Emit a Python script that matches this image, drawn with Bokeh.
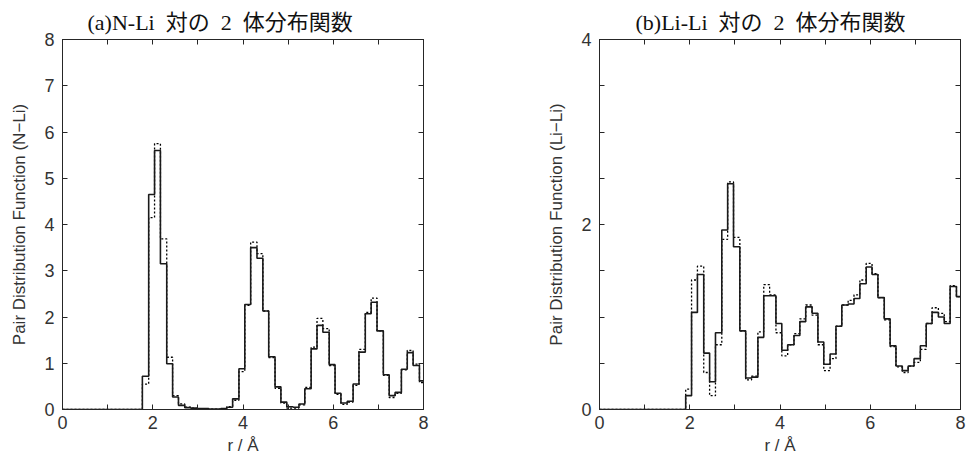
from bokeh.plotting import figure
from bokeh.models import LinearAxis, FixedTicker, Range1d
from bokeh.layouts import row
from bokeh.embed import file_html
from bokeh.resources import INLINE

# bin left edges (r / Å), bins of width 8/60
r_edges = [1.77, 1.91, 2.04, 2.17, 2.31, 2.44, 2.57, 2.71, 2.84, 2.97, 3.11, 3.24,
           3.37, 3.51, 3.64, 3.77, 3.91, 4.04, 4.17, 4.31, 4.44, 4.57, 4.71, 4.84,
           4.97, 5.11, 5.24, 5.37, 5.51, 5.64, 5.77, 5.91, 6.04, 6.17, 6.31, 6.44,
           6.57, 6.71, 6.84, 6.97, 7.11, 7.24, 7.37, 7.51, 7.64, 7.77, 7.91]
r_min = 0.0
r_max = 8.0

# (a) N-Li pair distribution function
nli_solid = [0.72, 4.65, 5.60, 3.15, 0.99, 0.27, 0.09, 0.04, 0.03, 0.02, 0.02, 0.01,
             0.01, 0.02, 0.05, 0.23, 0.88, 2.27, 3.50, 3.27, 2.13, 1.14, 0.49, 0.16,
             0.06, 0.05, 0.12, 0.45, 1.31, 1.82, 1.67, 0.97, 0.35, 0.14, 0.18, 0.55,
             1.24, 2.07, 2.32, 1.70, 0.75, 0.30, 0.37, 0.87, 1.23, 0.95, 0.62]
nli_dotted = [0.55, 4.15, 5.75, 3.69, 1.13, 0.30, 0.12, 0.05, 0.03, 0.02, 0.02, 0.01,
              0.01, 0.02, 0.06, 0.20, 0.82, 2.25, 3.62, 3.37, 2.13, 1.12, 0.46, 0.14,
              0.03, 0.03, 0.10, 0.48, 1.35, 1.97, 1.75, 0.95, 0.33, 0.11, 0.16, 0.52,
              1.30, 2.10, 2.41, 1.70, 0.74, 0.26, 0.35, 0.86, 1.28, 0.98, 0.58]

# (b) Li-Li pair distribution function
lili_solid = [0.00, 0.15, 1.05, 1.46, 0.61, 0.30, 0.83, 1.94, 2.44, 1.76, 0.85, 0.34,
              0.35, 0.78, 1.23, 1.23, 0.93, 0.64, 0.70, 0.80, 0.95, 1.11, 1.04, 0.73,
              0.49, 0.60, 0.90, 1.13, 1.14, 1.20, 1.36, 1.54, 1.46, 1.21, 0.98, 0.69,
              0.47, 0.42, 0.47, 0.55, 0.69, 0.93, 1.05, 1.00, 0.93, 1.33, 1.22]
lili_dotted = [0.00, 0.22, 1.40, 1.55, 0.40, 0.15, 0.70, 1.84, 2.46, 1.86, 0.85, 0.32,
               0.36, 0.84, 1.35, 1.24, 0.83, 0.58, 0.70, 0.82, 0.98, 1.13, 1.02, 0.70,
               0.42, 0.55, 0.90, 1.13, 1.18, 1.24, 1.40, 1.58, 1.47, 1.21, 0.97, 0.68,
               0.46, 0.40, 0.47, 0.51, 0.65, 0.93, 1.10, 1.04, 0.95, 1.34, 1.22]

x_ticks = [0, 1, 2, 3, 4, 5, 6, 7, 8]
x_tick_labels = {0: "0", 2: "2", 4: "4", 6: "6", 8: "8"}
ya_ticks = [0, 1, 2, 3, 4, 5, 6, 7, 8]
ya_tick_labels = {t: str(t) for t in ya_ticks}
yb_ticks = [0, 0.5, 1, 1.5, 2, 2.5, 3, 3.5, 4]
yb_tick_labels = {0: "0", 2: "2", 4: "4"}

titles = ["(a)N-Li\u2002対の\u20022\u2002体分布関数", "(b)Li-Li\u2002対の\u20022\u2002体分布関数"]
ylabels = ["Pair Distribution Function (N\u2212Li)", "Pair Distribution Function (Li\u2212Li)"]
xlabel = "r / \u00c5"

SPINE = "#262626"
TXT = "#333333"
SANS = "Liberation Sans"
SERIF = "Liberation Serif, Noto Sans CJK JP"


def overrides(ticks, shown):
    return {t: shown.get(t, "") for t in ticks}


def make_panel(title, ylabel, ymax, yticks, ylab_map, solid, dotted,
               border_left, border_right, title_offset):
    p = figure(frame_width=361, frame_height=370,
               x_range=Range1d(r_min, r_max), y_range=Range1d(0, ymax),
               output_backend="svg", toolbar_location=None,
               min_border_left=border_left, min_border_right=border_right,
               min_border_top=39, min_border_bottom=65,
               background_fill_color="white", border_fill_color="white")
    p.outline_line_color = SPINE
    p.outline_line_width = 1
    p.xgrid.visible = False
    p.ygrid.visible = False

    p.title.text = title
    p.title.text_font = SERIF
    p.title.text_font_size = "22px"
    p.title.text_font_style = "normal"
    p.title.text_color = "#111111"
    p.title.align = "left"
    p.title.offset = title_offset

    xs = [r_min] + r_edges + [r_max]
    yd = [0.0] + dotted + [dotted[-1]]
    ys = [0.0] + solid + [solid[-1]]
    p.step(xs, yd, mode="after", line_color="black", line_width=1.3, line_dash="2 2")
    p.step(xs, ys, mode="after", line_color="#1a1a1a", line_width=1.6)

    xt = FixedTicker(ticks=x_ticks)
    yt = FixedTicker(ticks=yticks)

    def style(ax, ticker, labels):
        ax.ticker = ticker
        ax.major_label_overrides = labels
        ax.major_tick_in = 5
        ax.major_tick_out = 0
        ax.minor_tick_line_color = None
        ax.axis_line_color = SPINE
        ax.axis_line_width = 1
        ax.major_tick_line_color = SPINE
        ax.major_label_text_font = SANS
        ax.major_label_text_font_size = "18px"
        ax.major_label_text_color = TXT
        ax.axis_label_text_font = SANS
        ax.axis_label_text_font_size = "17px"
        ax.axis_label_text_font_style = "normal"
        ax.axis_label_text_color = TXT

    xa = p.xaxis[0]
    style(xa, xt, overrides(x_ticks, x_tick_labels))
    xa.axis_label = xlabel
    xa.major_label_standoff = 6
    xa.axis_label_standoff = 4

    ya = p.yaxis[0]
    style(ya, yt, overrides(yticks, ylab_map))
    ya.axis_label = ylabel
    ya.major_label_standoff = 8
    ya.axis_label_standoff = 12

    top = LinearAxis()
    style(top, FixedTicker(ticks=x_ticks), {t: "" for t in x_ticks})
    top.major_label_text_font_size = "1px"
    top.major_label_standoff = 0
    p.add_layout(top, "above")

    right = LinearAxis()
    style(right, FixedTicker(ticks=yticks), {t: "" for t in yticks})
    right.major_label_text_font_size = "1px"
    right.major_label_standoff = 0
    p.add_layout(right, "right")
    return p


pa = make_panel(titles[0], ylabels[0], 8, ya_ticks, overrides(ya_ticks, ya_tick_labels),
                nli_solid, nli_dotted, 62, 61, 25)
pb = make_panel(titles[1], ylabels[1], 4, yb_ticks, overrides(yb_ticks, yb_tick_labels),
                lili_solid, lili_dotted, 115, 9, 36)

layout = row(pa, pb)
open("out.html", "w").write(file_html(layout, INLINE))
